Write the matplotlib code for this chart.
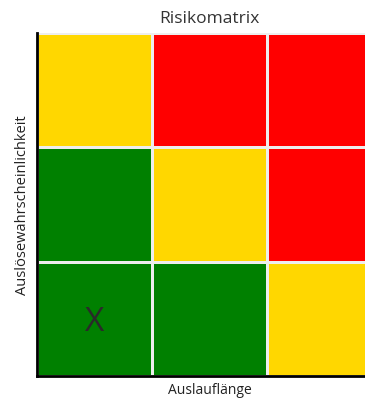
import matplotlib
matplotlib.use("Agg")
import matplotlib.pyplot as plt
from matplotlib.colors import ListedColormap
import numpy as np

plt.rcParams['font.family'] = ['Open Sans', 'DejaVu Sans']

title = "Risikomatrix"
x_label = "Auslauflänge"
y_label = "Auslösewahrscheinlichkeit"
level_colors = ["#008000", "#FFD700", "#FF0000"]  # low, medium, high
# rows from bottom (low likelihood) to top (high likelihood)
risk_levels = [
    [0, 0, 1],
    [0, 1, 2],
    [1, 2, 2],
]
marker_cell = (0, 0)  # (column, row)
marker_text = "X"

fig = plt.figure(figsize=(3.65, 4.02), dpi=100)
ax = fig.add_axes([37/365, 25/402, 345/365, 343/402])
grid = np.array(risk_levels)
ax.pcolormesh(np.arange(grid.shape[1] + 1), np.arange(grid.shape[0] + 1), grid,
              cmap=ListedColormap(level_colors), vmin=-0.5, vmax=2.5,
              edgecolors="#eeeeee", linewidth=1.0)
ax.text(marker_cell[0] + 0.5, marker_cell[1] + 0.48, marker_text,
        ha="center", va="center", fontsize=24, color="#2a2a2a")
ax.set_xlim(0, grid.shape[1])
ax.set_ylim(0, grid.shape[0])
ax.set_xticks([])
ax.set_yticks([])
for s in ["top", "right"]:
    ax.spines[s].set_visible(False)
for s in ["left", "bottom"]:
    ax.spines[s].set_linewidth(2)
    ax.spines[s].set_color("black")
ax.set_title(title, fontsize=12.5, color="#333333", pad=8)
ax.set_xlabel(x_label, fontsize=10, color="#222222", labelpad=4)
ax.set_ylabel(y_label, fontsize=10.5, color="#222222", labelpad=5)
fig.savefig("out.png", dpi=100)
